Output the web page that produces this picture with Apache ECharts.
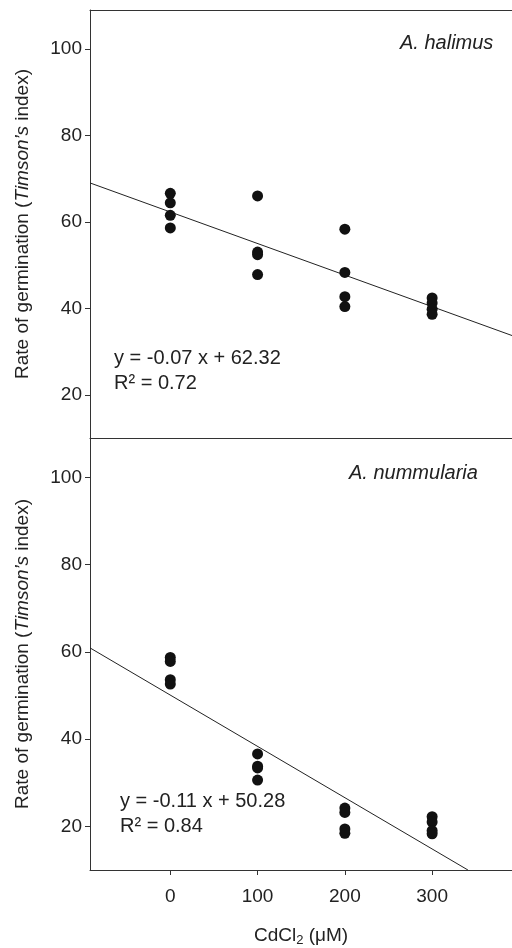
<!DOCTYPE html>
<html>
<head>
<meta charset="utf-8">
<script src="https://cdn.jsdelivr.net/npm/echarts@6/dist/echarts.min.js"></script>
<style>
  html, body { margin: 0; padding: 0; background: #fff; }
  #main { width: 512px; height: 948px; }
</style>
</head>
<body>
<div id="main"></div>
<script>
// CdCl2 doses (uM) and the replicate values
var doses = [0, 100, 200, 300];
var halimusVals = [
    [66.6, 64.4, 61.5, 58.6],
    [66.0, 53.0, 52.4, 47.8],
    [58.3, 48.3, 42.7, 40.4],
    [42.4, 41.2, 39.8, 38.6]
];
var nummulariaVals = [
    [58.7, 57.8, 53.6, 52.6],
    [36.6, 33.8, 33.4, 30.6],
    [24.2, 23.2, 19.4, 18.4],
    [22.2, 21.0, 19.0, 18.3]
];
// fitted lines as drawn (ends at the plot edges)
var halimusFit = [[-92, 69.0], [391.5, 33.7]];
var nummulariaFit = [[-92, 60.9], [341, 10]];

var yTicks = [20, 40, 60, 80, 100];
var xTicks = [0, 100, 200, 300];
var eqTop = ['y = -0.07 x + 62.32', 'R\u00b2 = 0.72'];
var eqBottom = ['y = -0.11 x + 50.28', 'R\u00b2 = 0.84'];

function toPoints(vals) {
    var pts = [];
    for (var i = 0; i < doses.length; i++) {
        for (var j = 0; j < vals[i].length; j++) {
            pts.push([doses[i], vals[i][j]]);
        }
    }
    return pts;
}

var font = '"Liberation Sans", Arial, sans-serif';
var ink = '#222';
var xMin = -92, xMax = 391.5;

function yAxisFor(idx) {
    return {
        gridIndex: idx,
        type: 'value',
        min: 10,
        max: 109,
        name: 'Rate of germination ({it|Timson\u2019s} index)',
        nameLocation: 'middle',
        nameRotate: 90,
        nameGap: 58,
        nameTextStyle: {
            color: ink, fontSize: 19, fontFamily: font,
            rich: { it: { fontStyle: 'italic', fontSize: 19, fontFamily: font, color: ink } }
        },
        axisLine: { show: true, onZero: false, lineStyle: { color: '#333', width: 1 } },
        axisTick: { show: true, length: 5, customValues: yTicks, lineStyle: { color: '#333' } },
        axisLabel: { customValues: yTicks, color: ink, fontSize: 19, fontFamily: font, margin: 8 },
        splitLine: { show: false }
    };
}

function plainX(idx, pos) {
    return {
        gridIndex: idx, type: 'value', min: xMin, max: xMax, position: pos,
        axisLine: { show: true, onZero: false, lineStyle: { color: '#333' } },
        axisTick: { show: false },
        axisLabel: { show: false },
        splitLine: { show: false }
    };
}

var dom = document.getElementById('main');
var chart = echarts.init(dom);

var option = {
    animation: false,
    backgroundColor: '#fff',
    grid: [
        { left: 90, top: 10, right: 0, height: 428 },
        { left: 90, top: 438, right: 0, height: 432 }
    ],
    xAxis: [
        plainX(0, 'bottom'),
        plainX(0, 'top'),
        {
            gridIndex: 1, type: 'value', min: xMin, max: xMax, position: 'bottom',
            name: 'CdCl{sub|2} (\u03bcM)',
            nameLocation: 'middle',
            nameGap: 54,
            nameTextStyle: {
                color: ink, fontSize: 19, fontFamily: font,
                rich: { sub: { fontSize: 13, fontFamily: font, color: ink, padding: [10, 0, 0, 0] } }
            },
            axisLine: { show: true, onZero: false, lineStyle: { color: '#333' } },
            axisTick: { show: true, length: 5, customValues: xTicks, lineStyle: { color: '#333' } },
            axisLabel: { customValues: xTicks, color: ink, fontSize: 19, fontFamily: font, margin: 17 },
            splitLine: { show: false }
        }
    ],
    yAxis: [yAxisFor(0), yAxisFor(1)],
    series: [
        {
            type: 'line', xAxisIndex: 0, yAxisIndex: 0, data: halimusFit,
            showSymbol: false, symbol: 'none', lineStyle: { color: ink, width: 1 }, z: 2
        },
        {
            type: 'scatter', xAxisIndex: 0, yAxisIndex: 0, data: toPoints(halimusVals),
            symbolSize: 11, itemStyle: { color: '#111', opacity: 1 }, z: 3
        },
        {
            type: 'line', xAxisIndex: 2, yAxisIndex: 1, data: nummulariaFit,
            showSymbol: false, symbol: 'none', lineStyle: { color: ink, width: 1 }, z: 2
        },
        {
            type: 'scatter', xAxisIndex: 2, yAxisIndex: 1, data: toPoints(nummulariaVals),
            symbolSize: 11, itemStyle: { color: '#111', opacity: 1 }, z: 3
        }
    ],
    graphic: [
        { type: 'text', left: 400, top: 33, style: { text: 'A. halimus', fontSize: 20, fontStyle: 'italic', fontFamily: font, fill: ink } },
        { type: 'text', left: 349, top: 463, style: { text: 'A. nummularia', fontSize: 20, fontStyle: 'italic', fontFamily: font, fill: ink } },
        { type: 'text', left: 114, top: 346, style: { text: eqTop.join('\n'), fontSize: 20, lineHeight: 25, fontFamily: font, fill: ink } },
        { type: 'text', left: 120, top: 789, style: { text: eqBottom.join('\n'), fontSize: 20, lineHeight: 25, fontFamily: font, fill: ink } }
    ]
};

chart.setOption(option);
window.addEventListener('resize', function () {
    chart.resize();
});
</script>
</body>
</html>
